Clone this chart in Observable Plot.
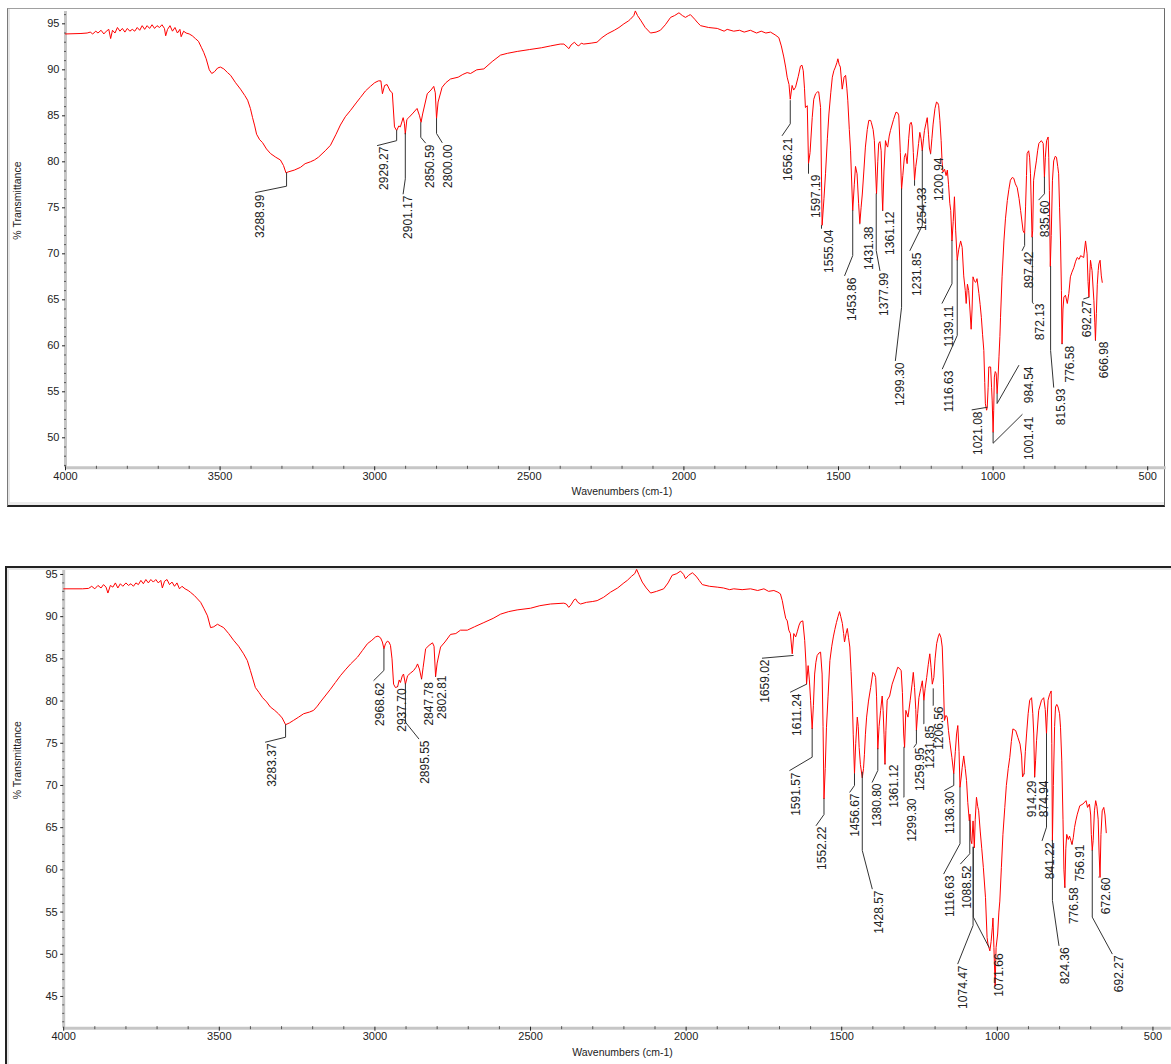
<!DOCTYPE html>
<html><head><meta charset="utf-8">
<script src="https://cdn.jsdelivr.net/npm/d3@7"></script>
<script src="https://cdn.jsdelivr.net/npm/@observablehq/plot@0.6"></script>
<style>
html,body{margin:0;padding:0;background:#fff;}
#page{position:relative;width:1171px;height:1064px;overflow:hidden;background:#fff;font-family:"Liberation Sans",Arial,sans-serif;}
.slot{position:absolute;left:0;}
.frame{position:absolute;box-sizing:border-box;pointer-events:none;}
</style></head><body><div id="page">
<div class="frame" style="left:7px;top:8px;width:1158px;height:499px;border-top:1px solid #a0a0a0;border-left:1px solid #7a7a7a;border-right:1px solid #6a6a6a;border-bottom:2px solid #222;box-shadow:inset 2px 0 0 #e6e6e6, inset 0 -3px 0 #ececec;"></div>
<div class="frame" style="left:5px;top:566px;width:1200px;height:600px;border-top:2px solid #222;border-left:2px solid #222;box-shadow:inset 2px 2px 0 #e6e6e6;"></div>
<div id="top" class="slot" style="top:0px"></div>
<div id="bottom" class="slot" style="top:560px"></div>
</div>
<script>
// ---------- data: spectrum 1 (top) as [wavenumber, %T] ----------
const topSpectrum = [[4000,93.9],[3950,93.95],[3930,94.0],[3920,94.1],[3912,93.9],[3902,94.2],[3895,94.0],[3885,94.3],[3876,93.9],[3868,94.2],[3860,94.4],[3854,93.4],[3848,94.3],[3840,94.0],[3832,94.6],[3824,94.2],[3816,94.5],[3808,94.1],[3800,94.5],[3792,94.2],[3784,94.4],[3776,94.2],[3768,94.6],[3760,94.3],[3752,94.8],[3744,94.4],[3736,94.8],[3728,94.5],[3720,94.9],[3712,94.5],[3704,94.8],[3696,94.6],[3688,94.9],[3680,94.5],[3676,93.7],[3670,94.4],[3662,94.8],[3654,94.2],[3646,94.6],[3638,94.0],[3630,94.4],[3626,93.6],[3618,94.2],[3610,94.0],[3600,93.9],[3590,93.7],[3580,93.4],[3570,93.1],[3560,92.4],[3553,91.9],[3545,91.2],[3535,90.0],[3527,89.6],[3518,89.8],[3508,90.2],[3499,90.3],[3488,90.1],[3476,89.7],[3466,89.4],[3450,88.6],[3434,87.9],[3420,87.2],[3411,86.7],[3402,85.8],[3395,84.8],[3388,83.9],[3382,83.0],[3372,82.4],[3363,82.1],[3350,81.4],[3337,80.9],[3320,80.5],[3305,80.2],[3295,79.6],[3287,78.8],[3280,78.9],[3260,79.1],[3240,79.4],[3225,79.8],[3208,80.0],[3195,80.2],[3182,80.5],[3160,81.2],[3143,81.8],[3125,83.0],[3111,84.0],[3095,84.9],[3078,85.6],[3060,86.4],[3046,87.0],[3030,87.7],[3014,88.2],[3000,88.6],[2988,88.8],[2980,88.8],[2975,87.4],[2968,88.3],[2960,88.4],[2950,87.7],[2943,87.5],[2936,83.8],[2929,83.4],[2922,83.9],[2917,83.8],[2908,84.8],[2904,84.2],[2901,83.0],[2896,84.6],[2890,84.8],[2876,85.3],[2863,85.8],[2855,85.0],[2850,84.3],[2845,85.2],[2830,87.4],[2818,87.8],[2809,88.2],[2804,87.5],[2800,84.7],[2795,86.5],[2782,88.1],[2770,88.6],[2755,89.0],[2730,89.2],[2715,89.5],[2701,89.7],[2690,89.6],[2670,90.0],[2647,90.1],[2620,90.9],[2593,91.6],[2570,91.8],[2539,92.0],[2500,92.2],[2460,92.4],[2431,92.6],[2400,92.8],[2388,92.8],[2378,92.5],[2372,92.3],[2365,92.7],[2354,93.0],[2346,92.7],[2340,92.6],[2332,92.9],[2324,92.8],[2300,92.9],[2281,93.0],[2265,93.5],[2248,93.9],[2225,94.3],[2210,94.6],[2194,95.0],[2180,95.3],[2173,95.5],[2162,95.9],[2157,96.4],[2150,95.9],[2140,95.4],[2125,94.6],[2108,94.0],[2090,94.1],[2076,94.3],[2060,94.9],[2043,95.7],[2030,95.9],[2016,96.2],[2005,95.9],[1995,95.7],[1985,95.9],[1979,96.0],[1965,95.5],[1955,95.1],[1946,94.8],[1920,94.6],[1892,94.5],[1870,94.2],[1860,94.4],[1839,94.2],[1820,94.3],[1805,94.1],[1785,94.3],[1765,94.0],[1750,94.2],[1735,94.0],[1720,94.1],[1705,93.8],[1693,93.5],[1685,92.6],[1677,91.4],[1671,90.3],[1666,89.2],[1660,88.4],[1656,86.8],[1650,88.3],[1645,87.8],[1639,88.1],[1630,89.3],[1623,90.4],[1618,90.5],[1614,89.9],[1610,88.0],[1607,85.9],[1601,86.1],[1597,79.8],[1592,81.0],[1585,84.8],[1580,86.8],[1574,87.4],[1568,87.6],[1564,87.6],[1560,86.5],[1558,85.9],[1553,73.1],[1547,76.0],[1542,78.7],[1536,82.5],[1531,85.2],[1525,87.5],[1520,89.2],[1515,89.9],[1510,90.3],[1505,90.8],[1502,91.2],[1498,90.6],[1494,90.3],[1488,87.9],[1482,89.2],[1477,89.4],[1473,88.0],[1470,86.7],[1465,83.5],[1461,81.2],[1454,74.7],[1449,77.5],[1445,79.5],[1440,78.7],[1435,75.5],[1431,73.3],[1427,75.0],[1423,76.5],[1418,79.0],[1413,81.6],[1407,83.5],[1402,84.5],[1396,84.5],[1394,84.3],[1388,83.5],[1384,82.3],[1380,79.0],[1377,76.5],[1373,80.0],[1370,82.0],[1366,82.2],[1362,81.2],[1359,76.5],[1357,74.7],[1353,79.0],[1348,82.3],[1344,81.8],[1341,81.6],[1336,82.8],[1332,83.4],[1322,84.6],[1314,85.4],[1308,85.3],[1305,85.0],[1300,81.0],[1296,77.0],[1292,78.5],[1287,80.5],[1283,80.9],[1278,79.8],[1273,82.5],[1269,84.1],[1265,84.3],[1262,83.9],[1258,81.0],[1254,78.0],[1250,79.5],[1246,80.5],[1241,82.0],[1237,83.2],[1233,82.5],[1229,81.2],[1225,82.5],[1222,83.4],[1217,84.2],[1213,84.8],[1209,83.0],[1206,81.5],[1202,80.9],[1198,82.5],[1194,84.1],[1188,85.8],[1183,86.5],[1179,86.4],[1176,86.1],[1172,84.5],[1168,82.3],[1165,80.0],[1162,78.9],[1157,79.2],[1152,78.5],[1148,79.1],[1144,77.5],[1140,75.5],[1137,74.7],[1133,71.4],[1129,73.5],[1125,76.2],[1121,72.5],[1116,69.3],[1111,70.5],[1105,71.4],[1100,70.7],[1095,67.6],[1090,66.0],[1087,64.6],[1083,66.7],[1079,66.0],[1075,64.0],[1071,61.8],[1068,64.0],[1065,67.5],[1060,67.0],[1056,66.9],[1052,67.3],[1046,65.7],[1042,64.5],[1038,63.1],[1034,61.2],[1030,59.5],[1027,56.0],[1025,53.7],[1021,53.0],[1019,53.3],[1016,55.5],[1014,57.7],[1008,57.7],[1005,55.5],[1003,54.1],[1000,50.6],[998,53.0],[996,56.6],[993,57.2],[990,57.0],[987,54.8],[984,56.5],[981,58.8],[978,61.0],[976,63.1],[971,67.5],[965,71.4],[960,73.8],[954,75.8],[949,77.0],[944,78.0],[938,78.3],[933,78.2],[928,77.6],[922,77.2],[916,76.0],[911,74.7],[903,72.5],[898,72.2],[895,75.1],[892,78.5],[890,80.9],[885,81.2],[882,80.5],[879,78.7],[874,71.8],[872,72.5],[869,78.0],[864,79.2],[860,80.1],[856,81.2],[852,82.0],[844,82.3],[838,82.0],[834,78.3],[831,80.5],[827,82.3],[822,82.7],[820,80.5],[818,76.9],[815,68.6],[812,72.0],[808,78.0],[804,80.1],[799,80.6],[795,80.5],[791,79.5],[788,78.7],[785,75.0],[782,71.4],[779,66.0],[777,60.2],[774,64.0],[771,65.3],[766,65.5],[760,64.6],[755,65.7],[750,67.5],[745,68.0],[739,68.5],[733,69.2],[728,69.6],[722,69.4],[717,69.8],[712,69.7],[707,69.6],[701,71.4],[696,70.0],[693,67.0],[690,65.3],[687,68.0],[685,69.3],[682,68.6],[680,68.2],[677,66.5],[674,64.9],[671,62.5],[669,60.6],[666,63.5],[663,66.7],[660,68.2],[658,68.9],[654,69.3],[650,67.6],[647,66.9]];

// ---------- data: spectrum 2 (bottom) ----------
const bottomSpectrum = [[4000,93.3],[3940,93.3],[3920,93.35],[3910,93.6],[3900,93.3],[3890,93.7],[3880,93.4],[3872,93.8],[3864,93.5],[3858,92.8],[3850,93.7],[3842,93.5],[3834,94.0],[3826,93.4],[3818,93.9],[3810,93.6],[3800,94.0],[3792,93.7],[3784,93.9],[3776,93.6],[3768,94.0],[3760,93.8],[3752,94.3],[3744,93.9],[3736,94.4],[3728,94.0],[3720,94.4],[3712,94.1],[3704,94.4],[3696,94.0],[3688,94.3],[3683,93.4],[3676,94.2],[3668,94.4],[3660,93.8],[3652,94.1],[3644,93.6],[3636,94.0],[3628,93.3],[3620,93.6],[3610,93.3],[3600,93.1],[3593,92.9],[3580,92.5],[3570,92.1],[3560,91.7],[3550,91.0],[3538,90.1],[3528,88.7],[3518,88.8],[3506,89.1],[3496,88.9],[3486,88.7],[3470,88.0],[3454,87.2],[3438,86.5],[3422,85.6],[3410,84.8],[3400,83.6],[3392,82.6],[3384,81.6],[3372,81.0],[3361,80.4],[3348,79.9],[3336,79.3],[3322,78.9],[3310,78.5],[3298,78.0],[3287,77.2],[3275,77.4],[3262,77.7],[3245,78.1],[3229,78.5],[3210,78.7],[3197,78.9],[3185,79.4],[3175,79.9],[3160,80.6],[3143,81.4],[3127,82.2],[3111,83.0],[3095,83.7],[3078,84.4],[3056,85.2],[3040,86.0],[3024,86.8],[3010,87.2],[2998,87.6],[2990,87.7],[2982,87.5],[2976,87.0],[2971,86.2],[2966,86.8],[2960,87.1],[2955,87.0],[2950,86.6],[2945,85.0],[2940,82.0],[2934,81.6],[2927,81.7],[2922,82.5],[2918,82.2],[2912,83.0],[2908,83.2],[2902,82.0],[2895,83.0],[2886,83.3],[2876,83.6],[2868,84.0],[2863,84.4],[2857,83.8],[2850,82.6],[2845,84.0],[2837,86.2],[2826,86.6],[2815,86.9],[2810,86.5],[2805,82.9],[2800,84.5],[2789,86.4],[2775,87.0],[2757,87.9],[2740,88.0],[2725,88.4],[2703,88.4],[2680,88.8],[2650,89.3],[2620,89.8],[2596,90.3],[2570,90.6],[2543,90.8],[2500,91.0],[2470,91.3],[2436,91.5],[2393,91.6],[2385,91.5],[2377,91.1],[2370,91.4],[2360,92.0],[2355,92.1],[2348,91.7],[2339,91.5],[2320,91.7],[2300,91.8],[2286,91.9],[2265,92.3],[2243,92.9],[2220,93.4],[2200,94.0],[2189,94.3],[2175,94.8],[2165,95.1],[2159,95.6],[2152,95.0],[2141,94.1],[2128,93.4],[2114,92.8],[2095,93.0],[2072,93.3],[2058,94.0],[2045,94.9],[2030,95.1],[2018,95.4],[2008,95.0],[2002,94.5],[1992,94.9],[1980,95.2],[1968,94.8],[1958,94.3],[1948,93.8],[1925,93.6],[1900,93.5],[1880,93.4],[1860,93.2],[1847,93.3],[1820,93.2],[1793,93.3],[1770,93.1],[1750,93.3],[1735,93.0],[1718,93.1],[1705,92.9],[1697,92.7],[1691,91.9],[1686,90.9],[1680,89.8],[1675,89.5],[1670,88.4],[1665,88.0],[1659,85.6],[1654,88.0],[1648,87.6],[1643,88.2],[1637,89.0],[1632,89.4],[1625,89.5],[1619,87.2],[1615,84.5],[1613,82.0],[1608,84.2],[1604,82.5],[1600,80.1],[1595,76.7],[1591,79.5],[1587,83.2],[1583,84.6],[1579,85.4],[1573,85.7],[1568,85.8],[1563,83.2],[1560,77.0],[1557,68.4],[1553,72.0],[1549,76.9],[1544,80.5],[1538,84.8],[1532,86.5],[1527,87.6],[1522,88.5],[1517,89.3],[1512,90.0],[1507,90.6],[1503,90.0],[1498,89.2],[1494,88.0],[1491,87.0],[1486,88.0],[1482,88.6],[1478,87.5],[1474,86.4],[1470,83.5],[1466,80.1],[1463,76.0],[1459,71.4],[1455,75.0],[1450,78.1],[1447,77.0],[1444,74.5],[1440,72.5],[1434,70.9],[1430,72.0],[1427,73.7],[1424,76.0],[1420,78.1],[1414,80.0],[1407,81.6],[1400,83.4],[1395,83.2],[1391,82.8],[1388,80.5],[1384,74.3],[1380,77.0],[1375,78.9],[1370,80.6],[1367,78.9],[1364,76.0],[1361,72.5],[1358,76.5],[1354,80.1],[1346,80.6],[1338,82.0],[1327,83.2],[1320,84.0],[1315,83.9],[1309,83.6],[1305,81.0],[1301,76.1],[1298,74.5],[1294,78.9],[1287,78.1],[1280,80.1],[1274,82.0],[1270,83.4],[1266,81.6],[1262,79.0],[1260,76.5],[1256,78.5],[1252,80.4],[1246,81.5],[1241,82.4],[1236,80.1],[1232,81.5],[1227,82.8],[1222,84.3],[1217,85.6],[1213,84.0],[1209,82.0],[1204,82.8],[1200,85.0],[1195,86.8],[1190,87.6],[1186,88.0],[1181,87.5],[1177,86.4],[1173,82.0],[1170,77.7],[1165,78.3],[1161,78.1],[1157,76.5],[1153,75.3],[1146,73.3],[1140,71.4],[1135,74.0],[1131,76.1],[1127,77.1],[1123,74.0],[1120,69.8],[1116,71.0],[1113,72.1],[1108,73.5],[1103,72.0],[1099,70.6],[1095,68.0],[1090,65.8],[1088,66.6],[1085,63.5],[1082,63.1],[1078,65.8],[1074,62.6],[1071,66.0],[1067,68.6],[1063,67.5],[1060,67.0],[1055,64.6],[1050,62.5],[1045,60.3],[1038,56.7],[1033,52.0],[1030,51.2],[1024,50.4],[1020,51.5],[1016,53.2],[1014,54.3],[1011,50.8],[1007,46.2],[1004,50.8],[999,52.4],[995,55.0],[992,56.3],[987,60.3],[982,64.2],[976,67.4],[971,70.0],[965,72.0],[960,73.3],[955,75.2],[950,76.7],[941,76.5],[934,75.7],[927,74.9],[922,73.5],[919,71.0],[914,71.4],[910,74.0],[906,76.1],[901,78.5],[896,80.1],[890,80.4],[886,78.5],[883,76.1],[880,71.0],[877,73.0],[874,75.3],[867,78.9],[858,80.1],[851,80.4],[846,79.0],[842,76.1],[840,78.0],[837,80.1],[832,80.8],[827,81.2],[825,75.0],[823,63.4],[820,70.0],[816,77.0],[813,79.3],[809,79.6],[805,79.3],[800,78.5],[797,76.9],[793,73.0],[789,66.0],[786,60.0],[783,57.9],[780,62.5],[777,64.2],[772,63.6],[768,64.0],[764,63.5],[760,63.0],[756,63.8],[752,65.0],[748,65.8],[743,66.6],[735,67.6],[725,67.8],[715,68.2],[710,67.4],[704,67.8],[700,66.5],[698,64.2],[695,62.3],[692,63.5],[688,67.0],[684,68.2],[680,67.5],[676,66.0],[673,62.0],[670,59.1],[667,64.2],[663,67.0],[658,67.4],[654,66.5],[650,64.4]];

// ---------- peak annotations: [text, peak wn, peak %T, elbow %T, leader-end wn, leader-end %T, text wn, text-top %T] ----------
const topPeaks = [
 ["3288.99",3285,78.8,77.35,3385,76.66,3369,76.44],
 ["2929.27",2929,83.4,82.3,2991,81.77,2971,81.66],
 ["2901.17",2901,83.1,78.15,2908,76.52,2891,76.34],
 ["2850.59",2851,84.27,82.67,2836,82.06,2820,81.88],
 ["2800.00",2800,84.7,83.08,2782,82.1,2761,81.88],
 ["1656.21",1656,86.66,84.13,1682,82.86,1662,82.64],
 ["1597.19",1597,79.78,78.73,1597,78.73,1572,78.62],
 ["1555.04",1555,73.08,72.75,1555,72.75,1531,72.64],
 ["1453.86",1454,74.71,69.81,1480,67.64,1456,67.42],
 ["1431.38",1431,73.26,73.26,1431,73.26,1402,72.97],
 ["1377.99",1378,76.52,70.36,1366,68.18,1353.5,67.97],
 ["1361.12",1357,74.71,74.71,1357,74.71,1332,74.6],
 ["1299.30",1296,77.06,64.19,1316,58.4,1299,58.18],
 ["1254.33",1254,77.97,77.42,1254,77.42,1228,77.2],
 ["1231.85",1229,81.23,73.08,1269,70.36,1245,70.14],
 ["1200.94",1202,80.87,80.87,1202,80.87,1176,80.47],
 ["1139.11",1133,71.44,66.74,1165,64.63,1141,64.38],
 ["1116.63",1116,69.3,61.12,1164,57.5,1141,57.31],
 ["1021.08",1019,53.32,53.32,1068,53.04,1048,52.86],
 ["1001.41",1000,50.6,49.41,906,52.53,882,52.31],
 ["984.54",987,54.78,53.73,917,57.86,884.5,57.75],
 ["897.42",898,72.17,70.9,906,70.36,884.5,70.25],
 ["872.13",873,71.8,64.74,870,64.6,847,64.6],
 ["835.60",834,78.33,76.52,852,75.87,833,75.79],
 ["815.93",814,68.62,59.49,804,55.5,780,55.36],
 ["776.58",777,60.22,60.22,777,60.22,750,60.0],
 ["692.27",690,65.28,65.28,707,65.1,696,64.92],
 ["666.98",669,60.58,60.58,669,60.58,640,60.47]
];
const bottomPeaks = [
 ["3283.37",3287,77.19,75.72,3351.5,75.13,3330,74.98],
 ["2968.62",2971,86.2,83.63,3003.5,82.44,2982,82.2],
 ["2937.70",2927,81.73,81.73,2927,81.73,2912,81.5],
 ["2895.55",2902,82.05,77.5,2859,75.53,2837,75.33],
 ["2847.78",2850,82.64,82.64,2850,82.64,2827,82.24],
 ["2802.81",2805,82.92,82.92,2805,82.92,2784,83.03],
 ["1659.02",1656,85.4,85.4,1755,85.08,1745,84.93],
 ["1611.24",1613,82.0,82.0,1664.5,81.06,1643,80.9],
 ["1591.57",1595,76.72,73.35,1667,71.78,1648,71.54],
 ["1552.22",1557,68.42,66.56,1582,65.26,1562.6,65.14],
 ["1456.67",1459,71.39,70.0,1474,69.21,1455.6,69.05],
 ["1428.57",1434,71.58,62.3,1402,57.76,1381,57.56],
 ["1380.80",1384,74.35,71.78,1402,70.39,1386,70.24],
 ["1361.12",1361,72.57,72.57,1361,72.57,1332.5,72.49],
 ["1299.30",1300,74.54,68.61,1300,68.61,1273,68.46],
 ["1259.95",1260,76.52,74.94,1268,74.54,1247,74.5],
 ["1231.85",1236,80.07,77.31,1236,77.31,1217,77.11],
 ["1206.56",1206,81.46,79.48,1206,79.48,1188,79.36],
 ["1136.30",1140,71.39,70.0,1169.6,69.41,1150,69.29],
 ["1116.63",1120,69.8,63.09,1172,59.54,1150,59.34],
 ["1088.52",1088.5,65.85,61.91,1118,60.72,1097,60.52],
 ["1074.47",1078,62.69,53.41,1127,48.88,1108.5,48.67],
 ["1071.66",1077,62.69,54.4,1027,50.84,995,50.1],
 ["914.29",914,71.39,71.39,914,71.39,888,70.59],
 ["874.94",880,70.98,70.98,880,70.98,850.5,70.59],
 ["841.22",842,76.13,65.06,856,63.48,829,63.25],
 ["824.36",823,63.48,56.38,802,51.04,781,50.81],
 ["776.58",783,57.95,57.95,783,57.95,754,57.92],
 ["756.91",760,63.09,63.09,760,63.09,732.6,63.01],
 ["692.27",695,62.3,54.4,631,50.06,610,49.86],
 ["672.60",674,59.14,59.14,674,59.14,649,59.1]
];

// ---------- axis ticks ----------
const xMajorTicks = [4000,3500,3000,2500,2000,1500,1000,500];
const xMinorTicks = [3900,3800,3700,3600,3400,3300,3200,3100,2900,2800,2700,2600,2400,2300,2200,2100,1900,1800,1700,1600,1400,1300,1200,1100,900,800,700,600];
const topYTicks = [50,55,60,65,70,75,80,85,90,95];
const bottomYTicks = [45,50,55,60,65,70,75,80,85,90,95];
const topYMinor = [47,48,49,51,52,53,54,56,57,58,59,61,62,63,64,66,67,68,69,71,72,73,74,76,77,78,79,81,82,83,84,86,87,88,89,91,92,93,94,96];
const bottomYMinor = [42,43,44,46,47,48,49,51,52,53,54,56,57,58,59,61,62,63,64,66,67,68,69,71,72,73,74,76,77,78,79,81,82,83,84,86,87,88,89,91,92,93,94];
const xTitle = "Wavenumbers (cm-1)";
const yTitle = "% Transmittance";

function panel({spectrum, peaks, height, mt, mb, ml, mr, xDomain, yDomain, yTicks, yMinor, titleDx, titleDy}) {
  const leaders = peaks.flatMap(([t, pw, pt, et, lw, lt]) => [
    {id: t, x: pw, y: pt}, {id: t, x: pw, y: et}, {id: t, x: lw, y: lt}
  ]);
  const texts = peaks.map(p => ({text: p[0], x: p[6], y: p[7]}));
  return Plot.plot({
    width: 1171, height,
    marginTop: mt, marginBottom: mb, marginLeft: ml, marginRight: mr,
    x: {domain: xDomain, label: null, axis: null},
    y: {domain: yDomain, label: null, axis: null},
    style: {fontFamily: "'Liberation Sans', Arial, sans-serif", fontSize: "11px", color: "#222", background: "transparent", overflow: "visible"},
    marks: [
      Plot.ruleY([yDomain[0]], {stroke: "#c6c6c6", strokeWidth: 3}),
      Plot.ruleX([xDomain[0]], {stroke: "#c6c6c6", strokeWidth: 3}),
      Plot.axisX(xMinorTicks, {tickSize: 3, tickFormat: () => "", label: null, stroke: "#555", dy: -1.5}),
      Plot.axisX(xMajorTicks, {tickSize: 4, tickPadding: 1, tickFormat: d => String(d), label: null, dy: -1}),
      Plot.axisY(yMinor, {tickSize: 2, tickFormat: () => "", label: null, stroke: "#555", dx: 1}),
      Plot.axisY(yTicks, {tickSize: 3, tickPadding: 3, tickFormat: d => String(d), label: null}),
      Plot.line(spectrum, {x: d => d[0], y: d => d[1], stroke: "#ff0000", strokeWidth: 1}),
      Plot.line(leaders, {x: "x", y: "y", z: "id", stroke: "#333", strokeWidth: 1}),
      Plot.text(texts, {x: "x", y: "y", text: "text", rotate: -90, textAnchor: "end", fontSize: 12, fill: "#222"}),
      Plot.text([xTitle], {frameAnchor: "bottom", dy: titleDy, dx: titleDx, fontSize: 10.5, fill: "#222"}),
      Plot.text([yTitle], {frameAnchor: "left", rotate: -90, dx: -(ml - 17), fontSize: 10.5, fill: "#222"})
    ]
  });
}

document.getElementById("top").append(panel({
  spectrum: topSpectrum, peaks: topPeaks, height: 506,
  mt: 11, mb: 38.7, ml: 65, mr: 5.25,
  xDomain: [4000, 440], yDomain: [46.74, 96.34],
  yTicks: topYTicks, yMinor: topYMinor, titleDx: 6, titleDy: 27
}));
document.getElementById("bottom").append(panel({
  spectrum: bottomSpectrum, peaks: bottomPeaks, height: 504,
  mt: 10, mb: 36.3, ml: 63.2, mr: 0.2,
  xDomain: [4000, 441], yDomain: [41.24, 95.47],
  yTicks: bottomYTicks, yMinor: bottomYMinor, titleDx: 5, titleDy: 28
}));
</script>
</body></html>
